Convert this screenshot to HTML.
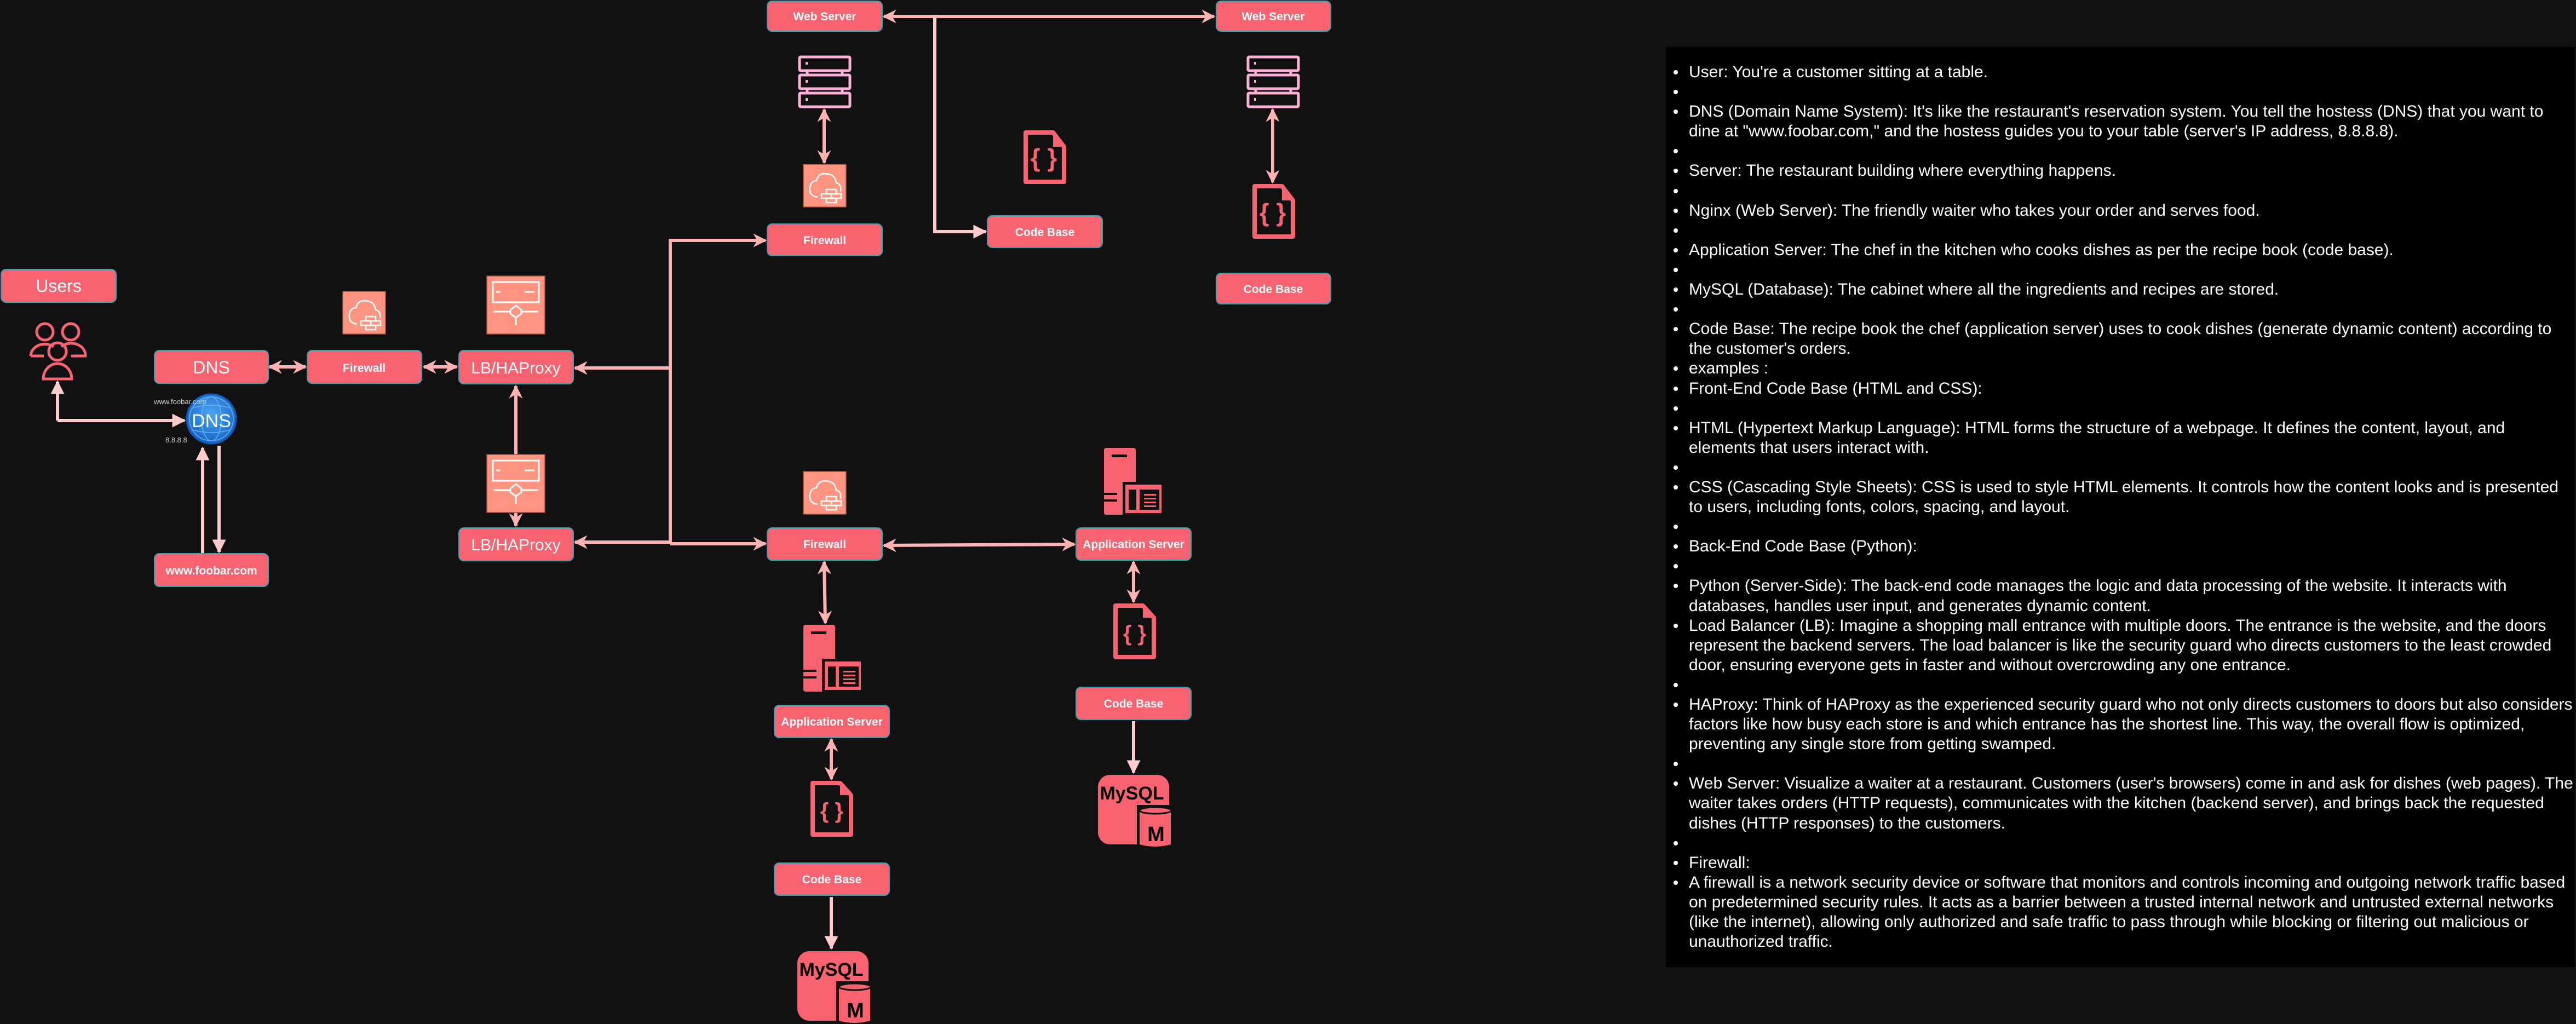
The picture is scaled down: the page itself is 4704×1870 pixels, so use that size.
<!DOCTYPE html>
<html><head><meta charset="utf-8">
<style>
html,body{margin:0;padding:0;background:#111111;}
body{width:4704px;height:1870px;position:relative;overflow:hidden;}
svg{position:absolute;left:0;top:0;}
#panel{position:absolute;left:3042px;top:86px;width:1660px;height:1680px;background:#000;}
#panel ul{margin:0;padding:0;list-style:none;position:absolute;left:0;top:28px;}
#panel li{position:relative;padding-left:42px;font-family:"Liberation Sans",sans-serif;font-size:30px;line-height:36.1px;color:#fff;white-space:nowrap;}
#panel li:before{content:"";position:absolute;left:14px;top:14px;width:8px;height:8px;border-radius:50%;background:#fff;}
.lbl{font-family:"Liberation Sans",sans-serif;font-weight:bold;fill:#fff;text-anchor:middle;}
</style></head><body>
<svg width="4704" height="1870" viewBox="0 0 4704 1870" xmlns="http://www.w3.org/2000/svg">
<defs>
<marker id="ah" viewBox="0 0 10 10" refX="9" refY="5" markerWidth="4.2" markerHeight="4.2" orient="auto-start-reverse" markerUnits="strokeWidth">
<path d="M0,0 L10,5 L0,10 L3,5 z" fill="#ffb3b0"/></marker>
<marker id="ah2" viewBox="0 0 10 10" refX="9" refY="5" markerWidth="4.2" markerHeight="4.2" orient="auto-start-reverse" markerUnits="strokeWidth">
<path d="M0,0 L10,5 L0,10 z" fill="#ffcccb"/></marker>
<radialGradient id="gl" cx="50%" cy="40%" r="60%"><stop offset="0" stop-color="#4aa6f0"/><stop offset="1" stop-color="#1565c8"/></radialGradient>
</defs>

<g stroke="#ffb3b0" stroke-width="6" fill="none">
<line x1="492" y1="670" x2="558" y2="670" marker-start="url(#ah)" marker-end="url(#ah)"/>
<line x1="774" y1="670" x2="834" y2="670" marker-start="url(#ah)" marker-end="url(#ah)"/>
<line x1="942" y1="705" x2="942" y2="960" marker-start="url(#ah)" marker-end="url(#ah)"/>
<polyline points="1224,993 1224,439 1398,439" marker-end="url(#ah)"/>
<polyline points="1224,672 1050,672" marker-end="url(#ah)"/>
<polyline points="1224,990 1050,990" marker-end="url(#ah)"/>
<polyline points="1224,993 1398,993" marker-end="url(#ah)"/>
<line x1="1614" y1="30" x2="2217" y2="30" marker-start="url(#ah)" marker-end="url(#ah)"/>
<polyline points="1707,30 1707,423 1800,423" stroke="#ffcccb" marker-end="url(#ah2)"/>
<line x1="1505" y1="200" x2="1505" y2="297" marker-start="url(#ah)" marker-end="url(#ah)"/>
<line x1="2324" y1="200" x2="2324" y2="333" marker-start="url(#ah)" marker-end="url(#ah)"/>
<line x1="1614" y1="996" x2="1962" y2="994" marker-start="url(#ah)" marker-end="url(#ah)"/>
<line x1="1505" y1="1026" x2="1507" y2="1138" marker-start="url(#ah)" marker-end="url(#ah)"/>
<line x1="1518" y1="1350" x2="1518" y2="1423" marker-start="url(#ah)" marker-end="url(#ah)"/>
<line x1="1518" y1="1638" x2="1518" y2="1732" stroke="#ffcccb" marker-end="url(#ah2)"/>
<line x1="2070" y1="1026" x2="2070" y2="1099" marker-start="url(#ah)" marker-end="url(#ah)"/>
<line x1="2070" y1="1317" x2="2070" y2="1411" stroke="#ffcccb" marker-end="url(#ah2)"/>
<polyline points="105,768 105,697" stroke="#ffcccb" marker-end="url(#ah2)"/>
<polyline points="105,768 337,768" stroke="#ffcccb" marker-end="url(#ah2)"/>
<line x1="370" y1="1011" x2="370" y2="818" stroke="#ffcccb" marker-end="url(#ah2)"/>
<line x1="400" y1="814" x2="400" y2="1008" stroke="#ffcccb" marker-end="url(#ah2)"/>
</g>

<g fill="#f8636f" stroke="#2aa7b5" stroke-width="2">
<rect x="2" y="492" width="210" height="60" rx="9"/>
<rect x="282" y="640" width="208" height="60" rx="9"/>
<rect x="561" y="640" width="209" height="60" rx="9"/>
<rect x="838" y="640" width="209" height="61" rx="9"/>
<rect x="838" y="964" width="209" height="60" rx="9"/>
<rect x="282" y="1011" width="208" height="60" rx="9"/>
<rect x="1401" y="2" width="210" height="55" rx="9"/>
<rect x="2221" y="2" width="209" height="55" rx="9"/>
<rect x="1401" y="409" width="210" height="58" rx="9"/>
<rect x="1803" y="394" width="210" height="58" rx="9"/>
<rect x="2221" y="499" width="209" height="56" rx="9"/>
<rect x="1401" y="964" width="210" height="59" rx="9"/>
<rect x="1965" y="964" width="210" height="59" rx="9"/>
<rect x="1414" y="1288" width="210" height="59" rx="9"/>
<rect x="1965" y="1255" width="210" height="59" rx="9"/>
<rect x="1414" y="1576" width="210" height="59" rx="9"/>
</g>
<g class="lbl">
<text x="107" y="533" font-size="32" font-weight="normal">Users</text>
<text x="386" y="682" font-size="32" font-weight="normal">DNS</text>
<text x="665" y="679" font-size="21">Firewall</text>
<text x="942" y="682" font-size="30" font-weight="normal">LB/HAProxy</text>
<text x="942" y="1005" font-size="30" font-weight="normal">LB/HAProxy</text>
<text x="386" y="1049" font-size="21">www.foobar.com</text>
<text x="1506" y="37" font-size="21">Web Server</text>
<text x="2325" y="37" font-size="21">Web Server</text>
<text x="1506" y="446" font-size="21">Firewall</text>
<text x="1908" y="431" font-size="21">Code Base</text>
<text x="2325" y="535" font-size="21">Code Base</text>
<text x="1506" y="1001" font-size="21">Firewall</text>
<text x="2070" y="1001" font-size="21">Application Server</text>
<text x="1519" y="1325" font-size="21">Application Server</text>
<text x="2070" y="1292" font-size="21">Code Base</text>
<text x="1519" y="1613" font-size="21">Code Base</text>
</g>

<g fill="none" stroke="#f8636f" stroke-width="5">
<circle cx="82" cy="606" r="15"/><circle cx="129" cy="606" r="15"/><circle cx="105" cy="642" r="16"/>
<path d="M56,650 a26,22 0 0 1 42,-17 M112,633 a26,22 0 0 1 44,17 L130,650 M56,650 L80,650"/>
<path d="M79,692 a26,28 0 0 1 52,0 z"/>
</g>
<circle cx="386" cy="765" r="45" fill="url(#gl)" stroke="#0e5cb8" stroke-width="3"/>
<g fill="none" stroke="#7fbaf0" stroke-width="1.5" opacity="0.8">
<circle cx="386" cy="765" r="40"/><ellipse cx="386" cy="765" rx="18" ry="40"/>
<path d="M352,745 Q386,735 420,745 M352,785 Q386,795 420,785"/></g>
<text x="386" y="780" font-family="Liberation Sans,sans-serif" font-size="34" fill="#fff" text-anchor="middle">DNS</text>
<text x="281" y="738" font-family="Liberation Sans,sans-serif" font-size="13" fill="#cfcfcf">www.foobar.com</text>
<text x="302" y="808" font-family="Liberation Sans,sans-serif" font-size="13" fill="#cfcfcf">8.8.8.8</text>

<g>
<rect x="626" y="532" width="78" height="78" fill="#ff9580" stroke="#a0503c" stroke-width="1.5"/>
<g fill="none" stroke="#fff" stroke-width="2.5">
<path d="M652,592 q-16,-2 -14,-18 q2,-12 12,-12 q4,-16 22,-12 q12,2 14,16 q10,2 8,16"/>
<rect x="668" y="578" width="18" height="8"/><rect x="659" y="586" width="18" height="8"/><rect x="677" y="586" width="18" height="8"/><rect x="668" y="594" width="18" height="8"/>
</g></g>
<g transform="translate(841,-232)">
<rect x="626" y="532" width="78" height="78" fill="#ff9580" stroke="#a0503c" stroke-width="1.5"/>
<g fill="none" stroke="#fff" stroke-width="2.5">
<path d="M652,592 q-16,-2 -14,-18 q2,-12 12,-12 q4,-16 22,-12 q12,2 14,16 q10,2 8,16"/>
<rect x="668" y="578" width="18" height="8"/><rect x="659" y="586" width="18" height="8"/><rect x="677" y="586" width="18" height="8"/><rect x="668" y="594" width="18" height="8"/>
</g></g>
<g transform="translate(841,329)">
<rect x="626" y="532" width="78" height="78" fill="#ff9580" stroke="#a0503c" stroke-width="1.5"/>
<g fill="none" stroke="#fff" stroke-width="2.5">
<path d="M652,592 q-16,-2 -14,-18 q2,-12 12,-12 q4,-16 22,-12 q12,2 14,16 q10,2 8,16"/>
<rect x="668" y="578" width="18" height="8"/><rect x="659" y="586" width="18" height="8"/><rect x="677" y="586" width="18" height="8"/><rect x="668" y="594" width="18" height="8"/>
</g></g>

<g>
<rect x="889" y="504" width="106" height="106" fill="#ff9580" stroke="#a0503c" stroke-width="1.5"/>
<g stroke="#fff" stroke-width="3" fill="none">
<rect x="900" y="515" width="84" height="37"/><line x1="906" y1="533" x2="914" y2="533"/><line x1="958" y1="533" x2="976" y2="533"/>
<line x1="901" y1="569" x2="983" y2="569"/><path d="M942,558 L952,566 L952,573 L942,580 L932,573 L932,566 z" fill="#ff9580"/><line x1="942" y1="580" x2="942" y2="594"/>
</g></g>
<g transform="translate(0,326)">
<rect x="889" y="504" width="106" height="106" fill="#ff9580" stroke="#a0503c" stroke-width="1.5"/>
<g stroke="#fff" stroke-width="3" fill="none">
<rect x="900" y="515" width="84" height="37"/><line x1="906" y1="533" x2="914" y2="533"/><line x1="958" y1="533" x2="976" y2="533"/>
<line x1="901" y1="569" x2="983" y2="569"/><path d="M942,558 L952,566 L952,573 L942,580 L932,573 L932,566 z" fill="#ff9580"/><line x1="942" y1="580" x2="942" y2="594"/>
</g></g>

<g fill="none" stroke="#ffb0d8" stroke-width="5">
<rect x="1460" y="104" width="92" height="25" rx="2"/><rect x="1460" y="137" width="92" height="25" rx="2"/><rect x="1460" y="170" width="92" height="25" rx="2"/>
<path d="M1474,129v8M1538,129v8M1474,162v8M1538,162v8"/>
<rect x="2279" y="104" width="92" height="25" rx="2"/><rect x="2279" y="137" width="92" height="25" rx="2"/><rect x="2279" y="170" width="92" height="25" rx="2"/>
<path d="M2293,129v8M2357,129v8M2293,162v8M2357,162v8"/>
</g>
<g fill="#ffb0d8"><rect x="1471" y="113" width="4" height="5"/><rect x="1471" y="146" width="4" height="5"/><rect x="1471" y="179" width="4" height="5"/>
<rect x="2290" y="113" width="4" height="5"/><rect x="2290" y="146" width="4" height="5"/><rect x="2290" y="179" width="4" height="5"/></g>

<g fill="none" stroke="#f8636f" stroke-width="8" stroke-linejoin="round">
<path d="M1873,242 h50 l20,26 v64 h-70 z"/>
<path d="M2291,340 h50 l20,26 v66 h-70 z"/>
<path d="M2037,1106 h50 l20,22 v72 h-70 z"/>
<path d="M1484,1430 h50 l20,22 v72 h-70 z"/>
</g>
<g fill="#f8636f"><path d="M1923,242 l20,26 h-20z"/><path d="M2341,340 l20,26 h-20z"/><path d="M2087,1106 l20,22 h-20z"/><path d="M1534,1430 l20,22 h-20z"/></g>
<g font-family="Liberation Sans,sans-serif" font-weight="bold" fill="#f8636f" text-anchor="middle">
<text x="1906" y="304" font-size="46">{ }</text>
<text x="2324" y="404" font-size="46">{ }</text>
<text x="2072" y="1170" font-size="40">{ }</text>
<text x="1519" y="1494" font-size="40">{ }</text>
</g>

<g>
<rect x="2016" y="818" width="58" height="122" rx="4" fill="#f8636f"/>
<rect x="2030" y="830" width="28" height="5" fill="#111"/>
<rect x="2016" y="900" width="24" height="4" fill="#111"/><rect x="2016" y="912" width="24" height="4" fill="#111"/>
<rect x="2050" y="880" width="74" height="60" fill="#111"/>
<rect x="2055" y="885" width="66" height="52" fill="#f8636f"/>
<rect x="2061" y="894" width="14" height="37" fill="#111"/><rect x="2081" y="894" width="36" height="37" fill="#111"/>
<g fill="#f8636f"><rect x="2089" y="902" width="22" height="3"/><rect x="2089" y="909" width="22" height="3"/><rect x="2089" y="916" width="22" height="3"/><rect x="2089" y="923" width="22" height="3"/></g>
</g>
<g transform="translate(-549,323)">
<rect x="2016" y="818" width="58" height="122" rx="4" fill="#f8636f"/>
<rect x="2030" y="830" width="28" height="5" fill="#111"/>
<rect x="2016" y="900" width="24" height="4" fill="#111"/><rect x="2016" y="912" width="24" height="4" fill="#111"/>
<rect x="2050" y="880" width="74" height="60" fill="#111"/>
<rect x="2055" y="885" width="66" height="52" fill="#f8636f"/>
<rect x="2061" y="894" width="14" height="37" fill="#111"/><rect x="2081" y="894" width="36" height="37" fill="#111"/>
<g fill="#f8636f"><rect x="2089" y="902" width="22" height="3"/><rect x="2089" y="909" width="22" height="3"/><rect x="2089" y="916" width="22" height="3"/><rect x="2089" y="923" width="22" height="3"/></g>
</g>

<g>
<rect x="2005" y="1415" width="130" height="127" rx="22" fill="#f8636f"/>
<text x="2067" y="1460" font-family="Liberation Sans,sans-serif" font-weight="bold" font-size="34" fill="#000" text-anchor="middle">MySQL</text>
<rect x="2076" y="1470" width="62" height="76" fill="#111"/>
<path d="M2081,1480 v62 q28,8 57,0 v-62 z" fill="#f8636f"/>
<ellipse cx="2110" cy="1480" rx="29" ry="6" fill="#f8636f" stroke="#111" stroke-width="3"/>
<text x="2111" y="1536" font-family="Liberation Sans,sans-serif" font-weight="bold" font-size="38" fill="#000" text-anchor="middle">M</text>
</g>
<g transform="translate(-549,322)">
<rect x="2005" y="1415" width="130" height="127" rx="22" fill="#f8636f"/>
<text x="2067" y="1460" font-family="Liberation Sans,sans-serif" font-weight="bold" font-size="34" fill="#000" text-anchor="middle">MySQL</text>
<rect x="2076" y="1470" width="62" height="76" fill="#111"/>
<path d="M2081,1480 v62 q28,8 57,0 v-62 z" fill="#f8636f"/>
<ellipse cx="2110" cy="1480" rx="29" ry="6" fill="#f8636f" stroke="#111" stroke-width="3"/>
<text x="2111" y="1536" font-family="Liberation Sans,sans-serif" font-weight="bold" font-size="38" fill="#000" text-anchor="middle">M</text>
</g>
</svg>

<div id="panel"><ul>
<li>User: You're a customer sitting at a table.</li>
<li>&nbsp;</li>
<li>DNS (Domain Name System): It's like the restaurant's reservation system. You tell the hostess (DNS) that you want to<br>dine at "www.foobar.com," and the hostess guides you to your table (server's IP address, 8.8.8.8).</li>
<li>&nbsp;</li>
<li>Server: The restaurant building where everything happens.</li>
<li>&nbsp;</li>
<li>Nginx (Web Server): The friendly waiter who takes your order and serves food.</li>
<li>&nbsp;</li>
<li>Application Server: The chef in the kitchen who cooks dishes as per the recipe book (code base).</li>
<li>&nbsp;</li>
<li>MySQL (Database): The cabinet where all the ingredients and recipes are stored.</li>
<li>&nbsp;</li>
<li>Code Base: The recipe book the chef (application server) uses to cook dishes (generate dynamic content) according to<br>the customer's orders.</li>
<li>examples :</li>
<li>Front-End Code Base (HTML and CSS):</li>
<li>&nbsp;</li>
<li>HTML (Hypertext Markup Language): HTML forms the structure of a webpage. It defines the content, layout, and<br>elements that users interact with.</li>
<li>&nbsp;</li>
<li>CSS (Cascading Style Sheets): CSS is used to style HTML elements. It controls how the content looks and is presented<br>to users, including fonts, colors, spacing, and layout.</li>
<li>&nbsp;</li>
<li>Back-End Code Base (Python):</li>
<li>&nbsp;</li>
<li>Python (Server-Side): The back-end code manages the logic and data processing of the website. It interacts with<br>databases, handles user input, and generates dynamic content.</li>
<li>Load Balancer (LB): Imagine a shopping mall entrance with multiple doors. The entrance is the website, and the doors<br>represent the backend servers. The load balancer is like the security guard who directs customers to the least crowded<br>door, ensuring everyone gets in faster and without overcrowding any one entrance.</li>
<li>&nbsp;</li>
<li>HAProxy: Think of HAProxy as the experienced security guard who not only directs customers to doors but also considers<br>factors like how busy each store is and which entrance has the shortest line. This way, the overall flow is optimized,<br>preventing any single store from getting swamped.</li>
<li>&nbsp;</li>
<li>Web Server: Visualize a waiter at a restaurant. Customers (user's browsers) come in and ask for dishes (web pages). The<br>waiter takes orders (HTTP requests), communicates with the kitchen (backend server), and brings back the requested<br>dishes (HTTP responses) to the customers.</li>
<li>&nbsp;</li>
<li>Firewall:</li>
<li>A firewall is a network security device or software that monitors and controls incoming and outgoing network traffic based<br>on predetermined security rules. It acts as a barrier between a trusted internal network and untrusted external networks<br>(like the internet), allowing only authorized and safe traffic to pass through while blocking or filtering out malicious or<br>unauthorized traffic.</li>
</ul></div>
</body></html>
